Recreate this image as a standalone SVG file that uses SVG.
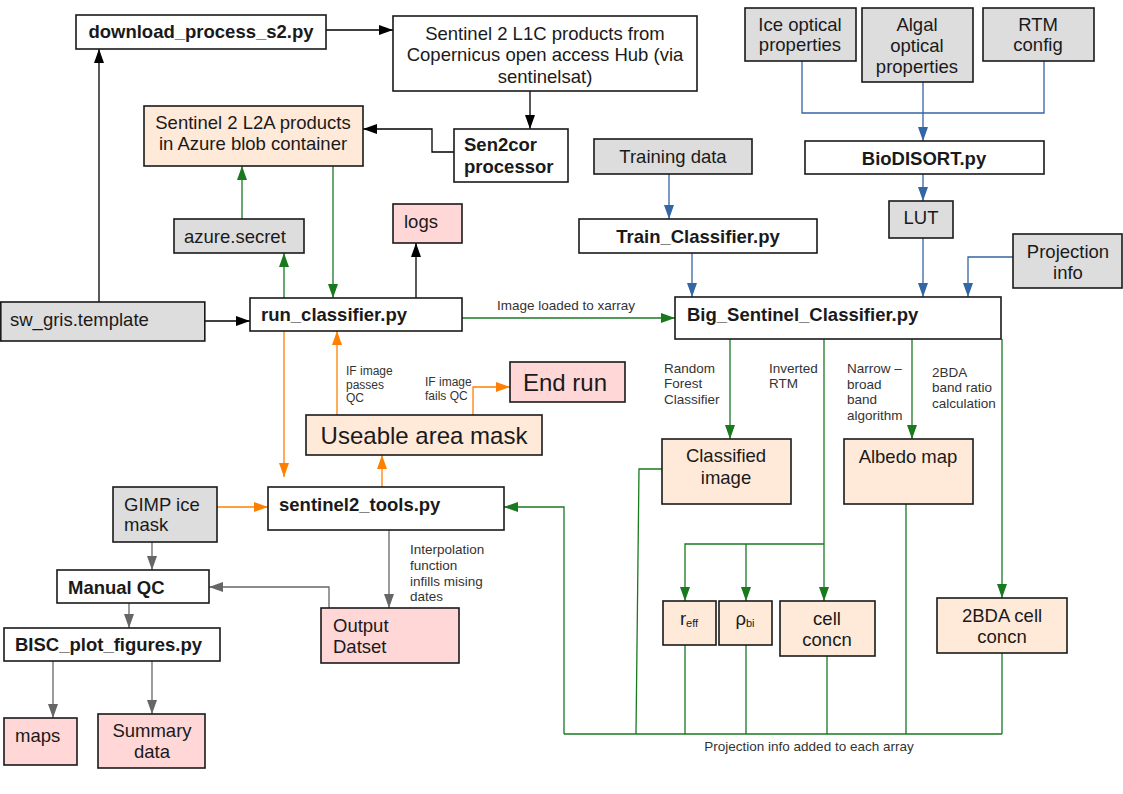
<svg xmlns="http://www.w3.org/2000/svg" width="1123" height="794" viewBox="0 0 1123 794">
<style>
.b{fill:#fff;stroke:#1a1a1a;stroke-width:1.6}
.g{fill:#dddddd}
.p{fill:#ffe9d8}
.k{fill:#ffd7d7}
text{font-family:"Liberation Sans",Arial,sans-serif;fill:#1a1a1a;dominant-baseline:central}
.t{font-size:18.5px}
.tb{font-size:18.5px;font-weight:bold}
.big{font-size:24px}
.s{font-size:13.5px;fill:#333}
.xs{font-size:12px;fill:#333}
.c{text-anchor:middle}
.cn path{fill:none;stroke-width:1.3}
.kb{stroke:#000}
.kg{stroke:#18791f}
.ko{stroke:#ff8000}
.ku{stroke:#3465a4}
.ky{stroke:#666}
</style>
<defs>
<marker id="ab" viewBox="0 0 14 10" refX="14" refY="5" markerWidth="14" markerHeight="10" markerUnits="userSpaceOnUse" orient="auto"><path d="M0,0 L14,5 L0,10 z" fill="#000"/></marker>
<marker id="ag" viewBox="0 0 14 10" refX="14" refY="5" markerWidth="14" markerHeight="10" markerUnits="userSpaceOnUse" orient="auto"><path d="M0,0 L14,5 L0,10 z" fill="#18791f"/></marker>
<marker id="ao" viewBox="0 0 14 10" refX="14" refY="5" markerWidth="14" markerHeight="10" markerUnits="userSpaceOnUse" orient="auto"><path d="M0,0 L14,5 L0,10 z" fill="#ff8000"/></marker>
<marker id="au" viewBox="0 0 14 10" refX="14" refY="5" markerWidth="14" markerHeight="10" markerUnits="userSpaceOnUse" orient="auto"><path d="M0,0 L14,5 L0,10 z" fill="#3465a4"/></marker>
<marker id="ay" viewBox="0 0 14 10" refX="14" refY="5" markerWidth="14" markerHeight="10" markerUnits="userSpaceOnUse" orient="auto"><path d="M0,0 L14,5 L0,10 z" fill="#666"/></marker>
</defs>
<rect width="1123" height="794" fill="#fff"/>

<g id="connectors" class="cn">
<path class="kb" d="M326,30 H393" marker-end="url(#ab)"/>
<path class="kb" d="M99,302 V49" marker-end="url(#ab)"/>
<path class="kb" d="M530,91 V129" marker-end="url(#ab)"/>
<path class="kb" d="M454,152 H432 V129 H363" marker-end="url(#ab)"/>
<path class="kb" d="M205,321 H250" marker-end="url(#ab)"/>
<path class="kb" d="M416,298 V243" marker-end="url(#ab)"/>

<path class="kg" d="M284,298 V253" marker-end="url(#ag)"/>
<path class="kg" d="M242,219 V166" marker-end="url(#ag)"/>
<path class="kg" d="M333,166 V298" marker-end="url(#ag)"/>
<path class="kg" d="M462,318 H675" marker-end="url(#ag)"/>
<path class="kg" d="M730,339 V439" marker-end="url(#ag)"/>
<path class="kg" d="M824,339 V601" marker-end="url(#ag)"/>
<path class="kg" d="M824,544 H685 V601" marker-end="url(#ag)"/>
<path class="kg" d="M746,544 V601" marker-end="url(#ag)"/>
<path class="kg" d="M912,339 V439" marker-end="url(#ag)"/>
<path class="kg" d="M1002,339 V598" marker-end="url(#ag)"/>
<path class="kg" d="M662,469 H639 L636,734"/>
<path class="kg" d="M564,734 H1002 M1002,653 V734 M906,504 V734 M827,656 V734 M746,645 V734 M685,645 V734"/>
<path class="kg" d="M564,734 V507 H504" marker-end="url(#ag)"/>

<path class="ko" d="M284,331 V477" marker-end="url(#ao)"/>
<path class="ko" d="M337,415 V331" marker-end="url(#ao)"/>
<path class="ko" d="M473,415 V387 H510" marker-end="url(#ao)"/>
<path class="ko" d="M382,487 V455" marker-end="url(#ao)"/>
<path class="ko" d="M217,507 H268" marker-end="url(#ao)"/>

<path class="ky" d="M389,530 V608" marker-end="url(#ay)"/>
<path class="ky" d="M329,608 V587 H209" marker-end="url(#ay)"/>
<path class="ky" d="M152,542 V570" marker-end="url(#ay)"/>
<path class="ky" d="M129,603 V628" marker-end="url(#ay)"/>
<path class="ky" d="M53,661 V718" marker-end="url(#ay)"/>
<path class="ky" d="M152,661 V714" marker-end="url(#ay)"/>

<path class="ku" d="M802,61 V113 H1044 V61"/>
<path class="ku" d="M923,82 V141" marker-end="url(#au)"/>
<path class="ku" d="M923,174 V201" marker-end="url(#au)"/>
<path class="ku" d="M669,174 V219" marker-end="url(#au)"/>
<path class="ku" d="M692,253 V297" marker-end="url(#au)"/>
<path class="ku" d="M923,238 V297" marker-end="url(#au)"/>
<path class="ku" d="M1013,257 H968 V297" marker-end="url(#au)"/>

<text class="s" x="497" y="305">Image loaded to xarray</text>
<text class="xs" x="346" y="371">IF image</text>
<text class="xs" x="346" y="384.5">passes</text>
<text class="xs" x="346" y="398">QC</text>
<text class="xs" x="425" y="382">IF image</text>
<text class="xs" x="425" y="396">fails QC</text>
<text class="s" x="410" y="549">Interpolation</text>
<text class="s" x="410" y="565">function</text>
<text class="s" x="410" y="581">infills mising</text>
<text class="s" x="410" y="596">dates</text>
<text class="s" x="664" y="368">Random</text>
<text class="s" x="664" y="383.5">Forest</text>
<text class="s" x="664" y="399">Classifier</text>
<text class="s" x="769" y="368">Inverted</text>
<text class="s" x="769" y="383.5">RTM</text>
<text class="s" x="847" y="368">Narrow –</text>
<text class="s" x="847" y="384">broad</text>
<text class="s" x="847" y="399">band</text>
<text class="s" x="847" y="415">algorithm</text>
<text class="s" x="932" y="372">2BDA</text>
<text class="s" x="932" y="387">band ratio</text>
<text class="s" x="932" y="403">calculation</text>
<text class="s c" x="809" y="746">Projection info added to each array</text>
</g>

<g id="download"><rect class="b" x="76" y="15" width="250" height="34"/><text class="tb c" x="201" y="31">download_process_s2.py</text></g>
<g id="l1c"><rect class="b" x="393" y="16" width="304" height="75"/><text class="t c" x="545" y="33">Sentinel 2 L1C products from</text><text class="t c" x="545" y="54">Copernicus open access Hub (via</text><text class="t c" x="545" y="76">sentinelsat)</text></g>
<g id="sen2cor"><rect class="b" x="454" y="129" width="114" height="53"/><text class="tb" x="464" y="144">Sen2cor</text><text class="tb" x="464" y="166">processor</text></g>
<g id="l2a"><rect class="b p" x="144" y="106" width="219" height="60"/><text class="t c" x="253" y="122">Sentinel 2 L2A products</text><text class="t c" x="253" y="143">in Azure blob container</text></g>
<g id="training"><rect class="b g" x="594" y="139" width="158" height="35"/><text class="t c" x="673" y="156">Training data</text></g>
<g id="ice"><rect class="b g" x="745" y="8" width="111" height="53"/><text class="t c" x="800" y="24">Ice optical</text><text class="t c" x="800" y="44">properties</text></g>
<g id="algal"><rect class="b g" x="862" y="8" width="111" height="74"/><text class="t c" x="917" y="24">Algal</text><text class="t c" x="917" y="45">optical</text><text class="t c" x="917" y="66">properties</text></g>
<g id="rtm"><rect class="b g" x="983" y="8" width="111" height="53"/><text class="t c" x="1038" y="24">RTM</text><text class="t c" x="1038" y="44">config</text></g>
<g id="biodisort"><rect class="b" x="805" y="141" width="239" height="33"/><text class="tb c" x="924" y="158">BioDISORT.py</text></g>
<g id="lut"><rect class="b g" x="889" y="201" width="64" height="37"/><text class="t c" x="921" y="217">LUT</text></g>
<g id="projection"><rect class="b g" x="1013" y="234" width="109" height="54"/><text class="t c" x="1068" y="251">Projection</text><text class="t c" x="1068" y="272">info</text></g>
<g id="train"><rect class="b" x="579" y="219" width="238" height="34"/><text class="tb c" x="698" y="236">Train_Classifier.py</text></g>
<g id="bigsentinel"><rect class="b" x="675" y="297" width="326" height="42"/><text class="tb" x="687" y="314">Big_Sentinel_Classifier.py</text></g>
<g id="logs"><rect class="b k" x="393" y="204" width="69" height="39"/><text class="t" x="404" y="221">logs</text></g>
<g id="azure"><rect class="b g" x="174" y="219" width="130" height="34"/><text class="t" x="184" y="236">azure.secret</text></g>
<g id="swgris"><rect class="b g" x="0.8" y="302" width="204" height="39"/><text class="t" x="10" y="319">sw_gris.template</text></g>
<g id="runclassifier"><rect class="b" x="250" y="298" width="212" height="33"/><text class="tb" x="261" y="314">run_classifier.py</text></g>
<g id="endrun"><rect class="b k" x="510" y="362" width="115" height="40"/><text class="big" x="523" y="382">End run</text></g>
<g id="useable"><rect class="b p" x="306" y="415" width="236" height="40"/><text class="big c" x="424" y="435">Useable area mask</text></g>
<g id="s2tools"><rect class="b" x="268" y="487" width="236" height="43"/><text class="tb" x="279" y="504">sentinel2_tools.py</text></g>
<g id="gimp"><rect class="b g" x="113" y="487" width="104" height="55"/><text class="t" x="124" y="504">GIMP ice</text><text class="t" x="124" y="524">mask</text></g>
<g id="manualqc"><rect class="b" x="57" y="570" width="152" height="33"/><text class="tb" x="68" y="587">Manual QC</text></g>
<g id="bisc"><rect class="b" x="4" y="628" width="216" height="33"/><text class="tb" x="15" y="644">BISC_plot_figures.py</text></g>
<g id="output"><rect class="b k" x="321" y="608" width="138" height="55"/><text class="t" x="333" y="625">Output</text><text class="t" x="333" y="646">Datset</text></g>
<g id="maps"><rect class="b k" x="4" y="718" width="73" height="47"/><text class="t" x="15" y="735">maps</text></g>
<g id="summary"><rect class="b k" x="98" y="714" width="107" height="54"/><text class="t c" x="152" y="730">Summary</text><text class="t c" x="152" y="751">data</text></g>
<g id="classified"><rect class="b p" x="662" y="439" width="129" height="65"/><text class="t c" x="726" y="455">Classified</text><text class="t c" x="726" y="477">image</text></g>
<g id="albedo"><rect class="b p" x="844" y="439" width="129" height="65"/><text class="t c" x="908" y="456">Albedo map</text></g>
<g id="reff"><rect class="b p" x="663" y="601" width="53" height="44"/><text class="t c" x="689" y="618">r<tspan font-size="11" dy="5">eff</tspan></text></g>
<g id="rhobi"><rect class="b p" x="719" y="601" width="53" height="44"/><text class="t c" x="745" y="618">ρ<tspan font-size="11" dy="5">bi</tspan></text></g>
<g id="cellconcn"><rect class="b p" x="780" y="601" width="95" height="55"/><text class="t c" x="827" y="618">cell</text><text class="t c" x="827" y="639">concn</text></g>
<g id="bdacell"><rect class="b p" x="937" y="598" width="130" height="55"/><text class="t c" x="1002" y="615">2BDA cell</text><text class="t c" x="1002" y="636">concn</text></g>
</svg>
